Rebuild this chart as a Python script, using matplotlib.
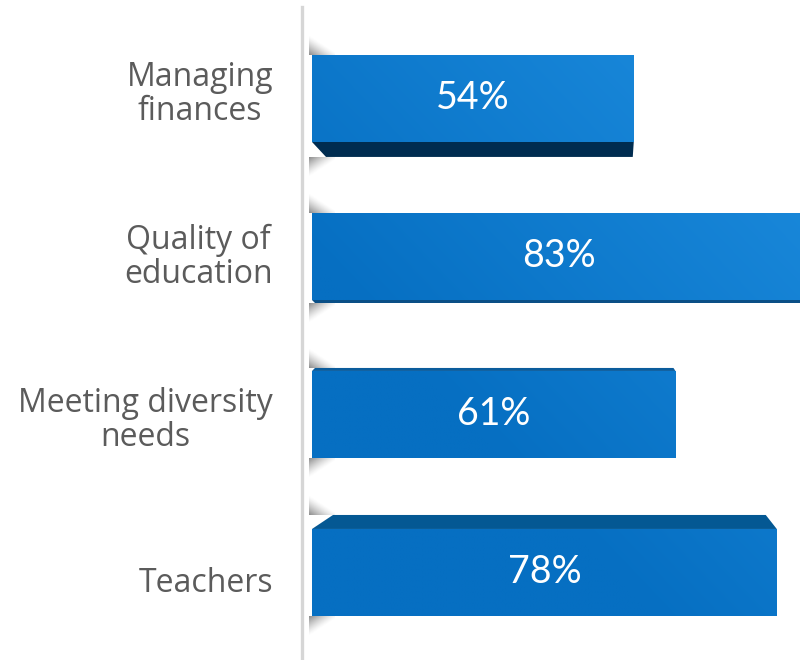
import numpy as np
import matplotlib
matplotlib.use("Agg")
import matplotlib.pyplot as plt
from matplotlib.patches import Polygon
from matplotlib.lines import Line2D
from matplotlib.colors import to_rgb

# ---- data -------------------------------------------------------------
categories = ["Managing\nfinances", "Quality of\neducation",
              "Meeting diversity\nneeds", "Teachers"]
values = [54, 83, 61, 78]
value_labels = ["54%", "83%", "61%", "78%"]

# ---- style ------------------------------------------------------------
# depth side of each bar: (side, thickness px, colour, left slant px, right slant px)
depth_style = [
    ("bottom", 15, "#002c50", 14, 1),
    ("bottom", 3, "#0a4f86", 3, 0),
    ("top", 3, "#0a5c9c", 3, 2),
    ("top", 14, "#045893", 21, 11),
]
face_dark = np.array(to_rgb("#066fc2"))
face_light = np.array(to_rgb("#1e8ee0"))

W, H = 800, 660
fig = plt.figure(figsize=(W / 100, H / 100), dpi=100)
fig.patch.set_facecolor("white")

ax_left_px = 312
ax = fig.add_axes([ax_left_px / W, 0, 1 - ax_left_px / W, 1])
XMAX = 81.9
Y_TOP, Y_BOT = -0.623, 3.554
ax.set_xlim(0, XMAX)
ax.set_ylim(Y_BOT, Y_TOP)
ax.axis("off")

px_x = (W - ax_left_px) / XMAX       # pixels per value unit
px_y = H / (Y_BOT - Y_TOP)           # pixels per category step
bar_h = 87 / px_y

pos = np.arange(len(categories))
bars = ax.barh(pos, values, height=bar_h, color="#0b78cc", zorder=2)

# gradient fill: lighter toward the upper right of the plot
gx = np.linspace(0, 1, 300)[None, :]
gy = np.linspace(0, 1, 300)[:, None]
t = np.clip(0.7 * gx + 0.9 * (1 - gy) - 0.55, 0, 1)
grad = face_dark[None, None, :] * (1 - t[..., None]) + face_light[None, None, :] * t[..., None]
for b in bars:
    im = ax.imshow(grad, extent=[0, XMAX, Y_BOT, Y_TOP], aspect="auto",
                   zorder=3, interpolation="bilinear")
    im.set_clip_path(b)
ax.set_xlim(0, XMAX)
ax.set_ylim(Y_BOT, Y_TOP)

# depth sides of the bars
for i, (v, (side, th, col, sl, sr)) in enumerate(zip(values, depth_style)):
    if side == "bottom":
        e = i + bar_h / 2
        d = th / px_y
    else:
        e = i - bar_h / 2
        d = -th / px_y
    pts = [(0, e), (v, e), (v - sr / px_x, e + d), (sl / px_x, e + d)]
    ax.add_patch(Polygon(pts, closed=True, facecolor=col, edgecolor="none", zorder=2.5))

# soft shadows at the folded left ends
sw, sh = 26, 20
ax_ = np.linspace(0, 1, 60)[None, :]
ay_ = np.linspace(0, 1, 60)[:, None]
for i, (side, th, col, sl, sr) in enumerate(depth_style):
    top_edge = i - bar_h / 2 - (th / px_y if side == "top" else 0)
    bot_edge = i + bar_h / 2 + (th / px_y if side == "bottom" else 0)
    for edge, direction in ((top_edge, -1), (bot_edge, 1)):
        a = np.clip(1 - ay_ - 0.85 * ax_, 0, 1) ** 1.3 * 0.75
        rgba = np.zeros((60, 60, 4))
        rgba[..., :3] = 0.4
        rgba[..., 3] = a
        x0, x1 = -3 / px_x, (sw - 3) / px_x
        y_far = edge + direction * sh / px_y
        if direction == -1:
            rgba = rgba[::-1]
            ext = [x0, x1, edge, y_far]
        else:
            ext = [x0, x1, y_far, edge]
        ax.imshow(rgba, extent=ext, aspect="auto", zorder=1,
                  interpolation="bilinear", clip_on=False)
ax.set_xlim(0, XMAX)
ax.set_ylim(Y_BOT, Y_TOP)

# value labels
for i, (v, lab) in enumerate(zip(values, value_labels)):
    ax.text(v / 2, i, lab, ha="center", va="center", color="white",
            fontsize=27, family="Lato", zorder=5)

# category labels
label_x = -39 / px_x
for i, cat in enumerate(categories):
    off = (-4 + 5 * i) / px_y
    ax.text(label_x, i + off, cat, ha="right", va="center", multialignment="center",
            color="#5b5b5b", fontsize=23, family="Open Sans", linespacing=1.05,
            clip_on=False)

# vertical axis rule
fig.add_artist(Line2D([302 / W, 302 / W], [0, 1 - 7 / H], color="#d6d6d6",
                      lw=2.4, transform=fig.transFigure))

fig.savefig("out.png", dpi=100)
